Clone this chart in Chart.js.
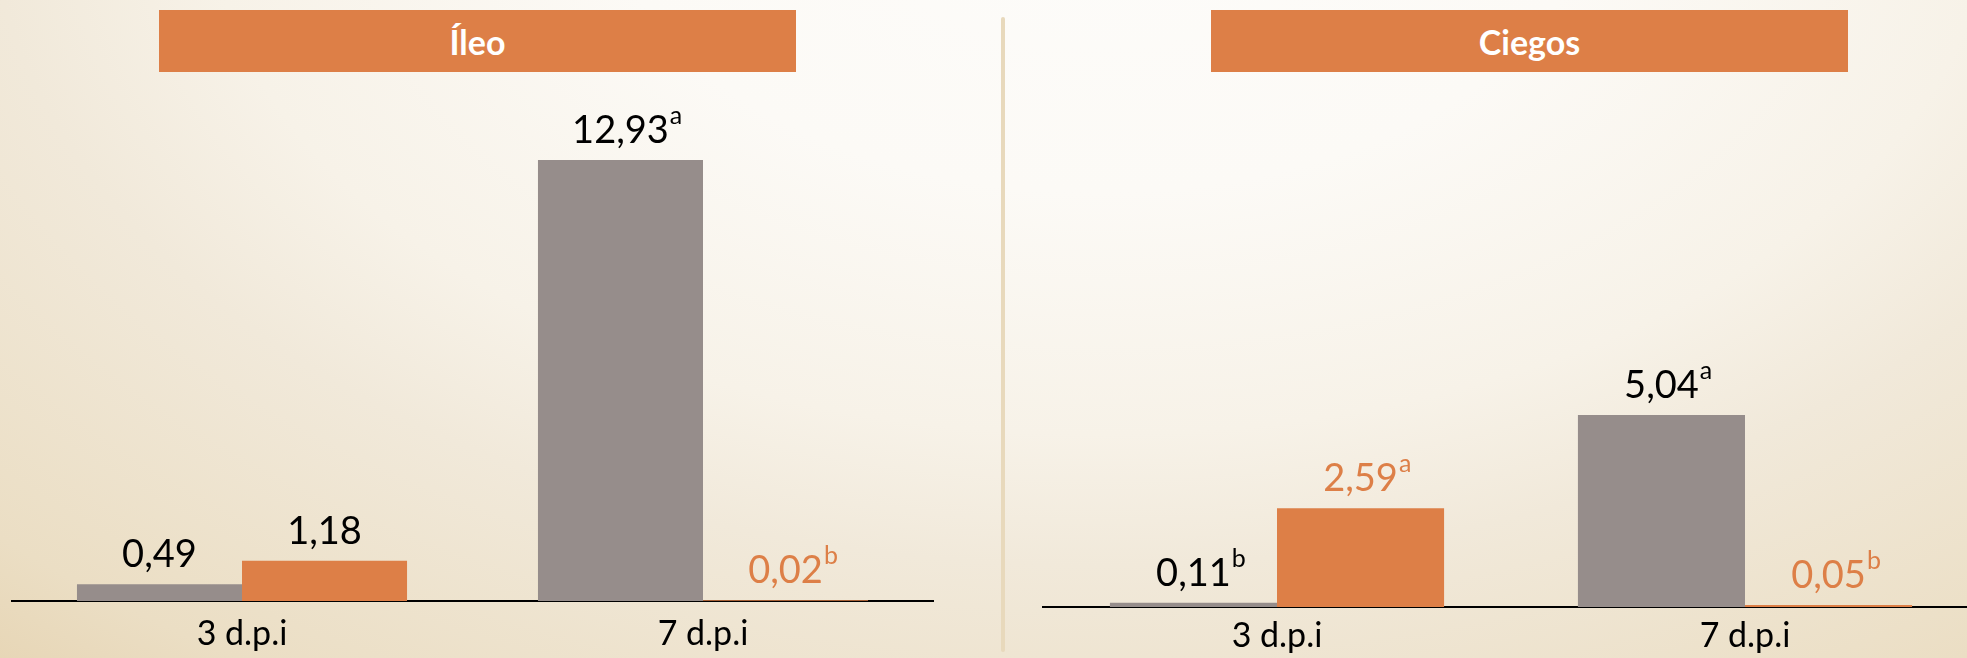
<!DOCTYPE html>
<html>
<head>
<meta charset="utf-8">
<script src="https://cdn.jsdelivr.net/npm/chart.js@4.4.1/dist/chart.umd.min.js"></script>
<style>
html,body{margin:0;padding:0;width:1967px;height:658px;overflow:hidden;}
body{position:relative;font-family:Lato,sans-serif;
background:radial-gradient(ellipse 1680px 1008px at 1100px -100px,#FDFCFA 0%,#FCFAF6 29%,#F7F2E8 53%,#F1E9DA 66%,#EBDEC4 91%,#E7D6B6 100%);}
.title{position:absolute;top:10px;height:62px;width:637px;background:#DD7F47;color:#fff;font:bold 34px Lato,sans-serif;display:flex;align-items:center;justify-content:center;}
.divider{position:absolute;left:1001px;top:17px;width:4px;height:635px;background:#E8D9BC;border-radius:2px;}
.wrap{position:absolute;top:0;height:658px;}
</style>
</head>
<body>
<div class="title" style="left:159px;">Íleo</div>
<div class="title" style="left:1211px;">Ciegos</div>
<div class="divider"></div>
<div class="wrap" style="left:0;width:990px;"><canvas id="c1" width="990" height="658"></canvas></div>
<div class="wrap" style="left:1010px;width:980px;"><canvas id="c2" width="980" height="658"></canvas></div>
<script>
const categories = ['3 d.p.i', '7 d.p.i'];
const ileoGray = [0.49, 12.93];
const ileoOrange = [1.18, 0.02];
const ileoGraySup = ['', 'a'];
const ileoOrangeSup = ['', 'b'];
const ciegosGray = [0.11, 5.04];
const ciegosOrange = [2.59, 0.05];
const ciegosGraySup = ['b', 'a'];
const ciegosOrangeSup = ['a', 'b'];
const ileoMax = 14;
const ciegosMax = 12;

const GRAY = '#968D8B';
const ORANGE = '#DD7F47';

const valueLabels = {
  id: 'valueLabels',
  afterDatasetsDraw(chart) {
    const ctx = chart.ctx;
    chart.data.datasets.forEach((ds, i) => {
      const meta = chart.getDatasetMeta(i);
      meta.data.forEach((bar, j) => {
        const txt = ds.data[j].toFixed(2).replace('.', ',');
        const sup = ds.sup[j];
        ctx.save();
        ctx.fillStyle = ds.labelColors[j];
        ctx.font = '38px Lato, sans-serif';
        ctx.textAlign = 'center';
        ctx.textBaseline = 'alphabetic';
        const y = bar.y - 17;
        ctx.fillText(txt, bar.x, y);
        if (sup) {
          const w = ctx.measureText(txt).width;
          ctx.font = '25px Lato, sans-serif';
          ctx.textAlign = 'left';
          ctx.fillText(sup, bar.x + w / 2 + 1, y - 19);
        }
        ctx.restore();
      });
    });
  }
};

function makeChart(id, gray, orange, graySup, orangeSup, grayColors, orangeColors, yMax, pad, axisH, catPct, tickPad) {
  return new Chart(document.getElementById(id), {
    type: 'bar',
    data: {
      labels: categories,
      datasets: [
        { label: 'Grupo 1', data: gray, backgroundColor: GRAY, borderWidth: 0, sup: graySup, labelColors: grayColors },
        { label: 'Grupo 2', data: orange, backgroundColor: ORANGE, borderWidth: 0, sup: orangeSup, labelColors: orangeColors }
      ]
    },
    options: {
      responsive: false,
      animation: false,
      devicePixelRatio: 1,
      layout: { padding: pad },
      datasets: { bar: { barPercentage: 1, categoryPercentage: catPct } },
      plugins: { legend: { display: false }, tooltip: { enabled: false }, title: { display: false } },
      scales: {
        x: {
          grid: { display: true, drawOnChartArea: false, drawTicks: false, color: 'rgba(0,0,0,0)' },
          border: { display: true, color: '#000', width: 2 },
          ticks: { color: '#000', font: { family: 'Lato', size: 34 }, padding: tickPad, maxRotation: 0 },
          afterFit(scale) { scale.height = axisH; }
        },
        y: { display: false, min: 0, max: yMax }
      }
    },
    plugins: [valueLabels]
  });
}

function init() {
  makeChart('c1', ileoGray, ileoOrange, ileoGraySup, ileoOrangeSup,
    ['#000', '#000'], ['#000', ORANGE], ileoMax,
    { left: 11.5, right: 56.5, top: 601 - ileoMax * 34.1, bottom: 0 }, 57, 0.716, 13);
  makeChart('c2', ciegosGray, ciegosOrange, ciegosGraySup, ciegosOrangeSup,
    ['#000', '#000'], [ORANGE, ORANGE], ciegosMax,
    { left: 33, right: 11, top: 607 - ciegosMax * 38.1, bottom: 0 }, 51, 0.714, 9);
}

if (document.fonts && document.fonts.load) {
  Promise.all([document.fonts.load('38px Lato'), document.fonts.load('bold 34px Lato')]).then(init, init);
} else { init(); }
</script>
</body>
</html>
